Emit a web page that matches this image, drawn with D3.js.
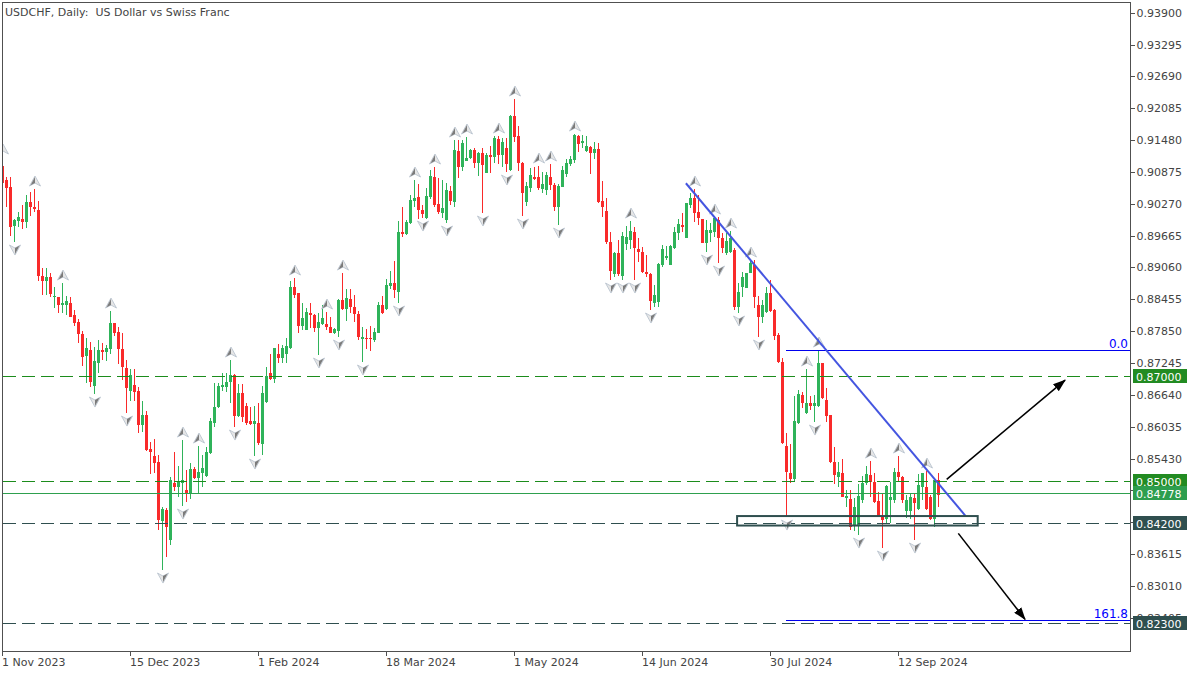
<!DOCTYPE html>
<html><head><meta charset="utf-8">
<script src="https://cdn.jsdelivr.net/npm/d3@7"></script>
<style>
body{margin:0;background:#fff}
svg{display:block}
text{font-family:"DejaVu Sans",Verdana,sans-serif;font-size:11px}
</style>
</head><body>
<svg id="c" width="1200" height="675"></svg>
<script>
// ---------------- DATA ----------------
const title = "USDCHF, Daily:  US Dollar vs Swiss Franc";
const startDate = "2023-11-01";
const holidays = ["2023-12-25", "2024-01-01"];

const open = [0.90987,0.90721,0.90588,0.89847,0.89942,0.89980,0.89923,0.90303,0.90208,0.90151,
0.88897,0.88802,0.88878,0.88498,0.88498,0.88346,0.88346,0.88384,0.88156,0.88023,
0.87795,0.87377,0.87491,0.86807,0.87244,0.87491,0.87453,0.87510,0.88004,0.87833,
0.87510,0.87149,0.86712,0.86826,0.86712,0.86066,0.86256,0.85610,0.85477,0.85363,
0.84242,0.84451,0.83881,0.84964,0.84888,0.84964,0.84831,0.84774,0.85230,0.85059,
0.85154,0.85097,0.85534,0.86104,0.86408,0.86788,0.86788,0.86883,0.87016,0.86237,
0.86674,0.86427,0.86142,0.86085,0.86104,0.85705,0.86503,0.87054,0.86940,0.87415,
0.87339,0.87415,0.87529,0.88688,0.88574,0.87947,0.87871,0.88194,0.88156,0.87909,
0.87985,0.87985,0.87928,0.87814,0.87852,0.88441,0.88270,0.88460,0.88308,0.88175,
0.87700,0.87719,0.87719,0.87681,0.87814,0.88346,0.88270,0.88707,0.88764,0.88593,
0.89733,0.89695,0.89904,0.90322,0.90398,0.90151,0.89999,0.90398,0.90778,0.90265,
0.90094,0.89961,0.90512,0.90303,0.91272,0.90968,0.91082,0.91139,0.91291,0.91044,
0.91234,0.90854,0.91196,0.91158,0.91500,0.91196,0.91329,0.90911,0.91937,0.91557,
0.91044,0.90303,0.90569,0.90778,0.90778,0.90550,0.90531,0.90778,0.90626,0.90208,
0.90588,0.90835,0.91025,0.91101,0.91557,0.91424,0.91272,0.91348,0.91234,0.91310,
0.90322,0.90132,0.89543,0.88935,0.89334,0.88897,0.89505,0.89581,0.89733,0.89410,
0.89353,0.88973,0.88935,0.88384,0.88403,0.89106,0.89239,0.89106,0.89429,0.89714,
0.89866,0.89619,0.90246,0.90379,0.90113,0.89980,0.89524,0.89714,0.89733,0.89961,
0.89619,0.89334,0.89353,0.89391,0.88308,0.88688,0.88669,0.88954,0.89106,0.88346,
0.88118,0.88213,0.88574,0.88251,0.87776,0.87263,0.85667,0.85154,0.85040,0.86104,
0.86636,0.86294,0.86484,0.86427,0.86427,0.87244,0.86541,0.86256,0.85363,0.85078,
0.85154,0.84679,0.84660,0.84147,0.84166,0.84641,0.84964,0.85116,0.84983,0.84622,
0.84318,0.84280,0.84641,0.84641,0.85173,0.85078,0.84432,0.84432,0.84679,0.84470,
0.84888,0.84888,0.84698,0.84280,0.85021];

const high = [0.91158,0.90778,0.90778,0.89980,0.90113,0.90246,0.90436,0.90493,0.90550,0.90322,
0.89049,0.89049,0.88954,0.88688,0.88498,0.88764,0.88517,0.88498,0.88251,0.88080,
0.87852,0.87719,0.87643,0.87548,0.87681,0.87624,0.87586,0.88232,0.88004,0.87928,
0.87814,0.87301,0.87130,0.87130,0.86788,0.86522,0.86332,0.85743,0.85800,0.85496,
0.84508,0.84489,0.85078,0.85553,0.85287,0.85781,0.85211,0.85344,0.85268,0.85667,
0.85496,0.85648,0.86199,0.86864,0.86864,0.87054,0.87054,0.87301,0.87035,0.86845,
0.86845,0.86484,0.86408,0.86427,0.86484,0.86807,0.87168,0.87415,0.87529,0.87605,
0.87586,0.87719,0.88802,0.88859,0.88574,0.88384,0.88289,0.88384,0.88175,0.88194,
0.88346,0.88213,0.88118,0.87909,0.88460,0.88954,0.88650,0.88650,0.88536,0.88232,
0.87928,0.87890,0.87947,0.87909,0.88403,0.88517,0.88840,0.88992,0.89182,0.89942,
0.90208,0.89961,0.90436,0.90721,0.90645,0.90246,0.90569,0.90911,0.90968,0.90759,
0.90721,0.90664,0.90607,0.91481,0.91481,0.91481,0.91538,0.91310,0.91329,0.91253,
0.91329,0.91234,0.91367,0.91557,0.91557,0.91519,0.91519,0.91956,0.92260,0.91747,
0.91063,0.90683,0.90949,0.90968,0.90987,0.90873,0.90873,0.91025,0.90664,0.90645,
0.90987,0.91120,0.91177,0.91595,0.91576,0.91576,0.91557,0.91367,0.91443,0.91424,
0.90702,0.90379,0.89733,0.89353,0.89581,0.89733,0.89847,0.89942,0.89828,0.89619,
0.89448,0.89296,0.88954,0.88726,0.89144,0.89486,0.89467,0.89486,0.89828,0.89980,
0.90094,0.90284,0.90474,0.90550,0.90436,0.89980,0.89961,0.89904,0.90018,0.90018,
0.89714,0.89714,0.89752,0.89429,0.88764,0.88973,0.88954,0.89201,0.89201,0.88517,
0.88441,0.88688,0.88821,0.88270,0.87814,0.87339,0.85914,0.85705,0.86617,0.86731,
0.86693,0.87130,0.86617,0.86636,0.87491,0.87244,0.86769,0.86256,0.85648,0.85363,
0.85420,0.84831,0.84831,0.84679,0.84945,0.85097,0.85287,0.85382,0.85154,0.84793,
0.84755,0.84926,0.84983,0.85249,0.85477,0.85097,0.84736,0.84755,0.84755,0.85135,
0.85154,0.85192,0.84736,0.85059,0.85154];

const low = [0.90626,0.90208,0.89657,0.89543,0.89828,0.89790,0.89809,0.90037,0.90113,0.88802,
0.88536,0.88536,0.88498,0.88289,0.88194,0.88194,0.88156,0.88118,0.87947,0.87624,
0.87187,0.86864,0.86788,0.86655,0.87054,0.87301,0.87282,0.87415,0.87757,0.87225,
0.86921,0.86294,0.86522,0.86522,0.85914,0.85933,0.85572,0.85135,0.85154,0.84071,
0.83311,0.83558,0.83786,0.84812,0.84698,0.84527,0.84603,0.84660,0.85040,0.84774,
0.84888,0.85078,0.85515,0.86028,0.86389,0.86712,0.86693,0.86484,0.86028,0.86218,
0.86123,0.86066,0.86066,0.85477,0.85686,0.85496,0.86484,0.86921,0.86864,0.87244,
0.87244,0.87244,0.87510,0.88479,0.87814,0.87871,0.87871,0.87909,0.87833,0.87396,
0.87966,0.87871,0.87814,0.87795,0.87738,0.88251,0.88042,0.88194,0.88023,0.87681,
0.87263,0.87510,0.87472,0.87643,0.87814,0.88175,0.88251,0.88650,0.88479,0.88384,
0.89638,0.89676,0.89885,0.90208,0.89980,0.89999,0.89980,0.90360,0.90208,0.90075,
0.89999,0.89904,0.90246,0.90208,0.90759,0.90892,0.91082,0.91120,0.90949,0.90797,
0.90094,0.90854,0.90854,0.91044,0.91025,0.90968,0.90873,0.90892,0.91443,0.90892,
0.90037,0.90227,0.90493,0.90721,0.90531,0.90474,0.90436,0.90531,0.90132,0.89866,
0.90588,0.90778,0.90987,0.91044,0.91253,0.91329,0.91253,0.90835,0.91120,0.90284,
0.90018,0.89505,0.88821,0.88878,0.88897,0.88821,0.89391,0.89410,0.88821,0.89163,
0.88954,0.88878,0.88251,0.88308,0.88308,0.89068,0.89201,0.89106,0.89410,0.89581,
0.89733,0.89619,0.90189,0.89923,0.89866,0.89524,0.89353,0.89543,0.89638,0.89144,
0.89334,0.89296,0.89334,0.88251,0.88194,0.88498,0.88669,0.88954,0.88289,0.87738,
0.88004,0.88194,0.88213,0.87681,0.87244,0.85705,0.84318,0.84964,0.84983,0.86085,
0.86389,0.86275,0.86351,0.86123,0.86408,0.86560,0.86123,0.85344,0.84945,0.84888,
0.84698,0.84508,0.84071,0.84052,0.83976,0.84584,0.84926,0.84698,0.84584,0.84318,
0.83729,0.84204,0.84204,0.84584,0.85002,0.84584,0.84299,0.84280,0.83881,0.84451,
0.84641,0.84451,0.84261,0.84128,0.84508];

const close = [0.90664,0.90569,0.89828,0.89961,0.90018,0.89923,0.90303,0.90208,0.90170,0.88897,
0.88802,0.88878,0.88555,0.88517,0.88346,0.88384,0.88422,0.88118,0.88004,0.87795,
0.87358,0.87529,0.86883,0.87282,0.87491,0.87453,0.87529,0.88004,0.87814,0.87510,
0.87168,0.86769,0.87016,0.86693,0.86066,0.86256,0.85591,0.85553,0.85344,0.84261,
0.84470,0.84128,0.85021,0.84888,0.85002,0.85021,0.84774,0.85230,0.85059,0.85173,
0.85249,0.85553,0.86142,0.86408,0.86807,0.86826,0.86883,0.87016,0.86237,0.86674,
0.86218,0.86104,0.86085,0.86142,0.85724,0.86674,0.86997,0.86940,0.87529,0.87339,
0.87529,0.87567,0.88688,0.88536,0.87947,0.88099,0.88213,0.88156,0.87909,0.88023,
0.88099,0.87928,0.87814,0.87890,0.88441,0.88270,0.88479,0.88308,0.88175,0.87738,
0.87738,0.87700,0.87700,0.87833,0.88346,0.88194,0.88726,0.88764,0.88631,0.89733,
0.89695,0.89923,0.90341,0.90379,0.90151,0.90075,0.90417,0.90797,0.90246,0.90113,
0.90189,0.90531,0.90322,0.91291,0.90968,0.91424,0.91139,0.91291,0.91044,0.91234,
0.91006,0.91196,0.91158,0.91519,0.91196,0.91443,0.91025,0.91937,0.91538,0.91044,
0.90474,0.90607,0.90816,0.90740,0.90569,0.90645,0.90816,0.90626,0.90208,0.90607,
0.90911,0.91044,0.91120,0.91576,0.91405,0.91462,0.91367,0.91234,0.91310,0.90303,
0.90208,0.89543,0.88992,0.89334,0.88935,0.89657,0.89638,0.89752,0.89429,0.89353,
0.88973,0.88935,0.88422,0.88536,0.89125,0.89410,0.89277,0.89467,0.89733,0.89885,
0.89828,0.90284,0.90379,0.90094,0.89999,0.89524,0.89771,0.89771,0.89999,0.89619,
0.89429,0.89562,0.89619,0.88308,0.88593,0.88878,0.88954,0.89144,0.88498,0.88118,
0.88346,0.88574,0.88232,0.87757,0.87263,0.85724,0.85173,0.85040,0.86142,0.86655,
0.86484,0.86484,0.86427,0.86484,0.87244,0.86579,0.86237,0.85363,0.85116,0.85173,
0.84698,0.84717,0.84128,0.84508,0.84717,0.84964,0.85135,0.84983,0.84603,0.84337,
0.84261,0.84907,0.84698,0.85173,0.85078,0.84641,0.84641,0.84698,0.84584,0.84926,
0.85154,0.84470,0.84280,0.85021,0.84736];

const upFractals = [0,8,15,27,45,49,57,73,81,85,103,108,113,116,124,128,134,137,143,157,173,178,182,187,201,204,217,224,231];
const downFractals = [3,23,31,40,45,58,63,79,84,90,99,105,111,120,126,130,139,152,155,158,162,176,179,184,189,196,203,214,220,228];

const priceTicks = [0.93900,0.93295,0.92690,0.92085,0.91480,0.90875,0.90270,0.89665,0.89060,0.88455,
0.87850,0.87245,0.86640,0.86035,0.85430,0.84825,0.84220,0.83615,0.83010,0.82405];
const dateTicks = ["1 Nov 2023","15 Dec 2023","1 Feb 2024","18 Mar 2024","1 May 2024","14 Jun 2024","30 Jul 2024","12 Sep 2024"];

const levelPrices = [0.87000, 0.85000, 0.84778, 0.84200, 0.82300];
const fibHigh = 0.87491, fibLow = 0.84318, fibStart = 196;
const fibLevels = [0, 161.8];
const trendStart = [170.9, 0.90660], trendEnd = [240.85, 0.84337];
const zoneStart = [183.7, 0.84337], zoneEnd = [243.85, 0.84157];
const arrowUpFrom = [236.1, 0.85034], arrowUpTo = [265.7, 0.86921];
const arrowDnFrom = [239.0, 0.84008], arrowDnTo = [255.7, 0.82374];

// ---------------- DRAW ----------------
const parse = d3.timeParse("%Y-%m-%d");
const fmtD = d3.timeFormat("%Y-%m-%d");
const fmtLabel = d3.timeFormat("%-d %b %Y");
const dates = [];
{
  let d = parse(startDate);
  while (dates.length < open.length) {
    const wd = d.getDay();
    if (wd !== 0 && wd !== 6 && !holidays.includes(fmtD(d))) dates.push(new Date(d));
    d = d3.timeDay.offset(d, 1);
  }
}
const bars = open.map((o, i) => ({i, o, h: high[i], l: low[i], c: close[i], date: dates[i]}));

const svg = d3.select("#c");
const PL = 2.5, PT = 2.5, PR = 1130.5, PB = 651.5;
const x = d3.scaleLinear().domain([0, 234]).range([2.3, 938.3]);
const y = d3.scaleLinear().domain([0.817733, 0.940843]).range([651, 3]);
const cx = i => Math.round(x(i));

svg.append("rect").attr("width", 1200).attr("height", 675).attr("fill", "#fff");
svg.append("clipPath").attr("id", "clip").append("rect")
  .attr("x", 3).attr("y", 3).attr("width", 1127).attr("height", 648);
const plot = svg.append("g").attr("clip-path", "url(#clip)");

// candles
const cg = plot.append("g").attr("shape-rendering", "crispEdges");
const GREEN = "#2fb35a", RED = "#f92a2a";
cg.selectAll("line.w").data(bars).join("line")
  .attr("x1", d => cx(d.i) + 0.5).attr("x2", d => cx(d.i) + 0.5)
  .attr("y1", d => y(d.h)).attr("y2", d => y(d.l))
  .attr("stroke", d => d.c >= d.o ? GREEN : RED).attr("stroke-width", 1);
cg.selectAll("rect.b").data(bars).join("rect")
  .attr("x", d => cx(d.i) - 1).attr("width", 3)
  .attr("y", d => y(Math.max(d.o, d.c)))
  .attr("height", d => Math.max(1, Math.abs(y(d.o) - y(d.c))))
  .attr("fill", d => d.c >= d.o ? GREEN : RED);

// horizontal levels
const levelStyle = [
  {stroke: "#1c8c1c", dash: "13,6", box: "#228b22"},
  {stroke: "#1c8c1c", dash: "13,6", box: "#228b22"},
  {stroke: "#2ea04e", dash: null,  box: "#2e9e4e"},
  {stroke: "#2f4f4f", dash: "13,6", box: "#2f4f4f"},
  {stroke: "#2f4f4f", dash: "13,6", box: "#2f4f4f"}
];
levelPrices.forEach((p, k) => {
  const yy = Math.round(y(p)) + 0.5;
  plot.append("line").attr("x1", 3).attr("x2", 1130).attr("y1", yy).attr("y2", yy)
    .attr("stroke", levelStyle[k].stroke).attr("stroke-width", 1)
    .attr("stroke-dasharray", levelStyle[k].dash).attr("shape-rendering", "crispEdges");
});

// fibonacci
fibLevels.forEach(lv => {
  const p = fibHigh - lv / 100 * (fibHigh - fibLow);
  const yy = Math.round(y(p)) + 0.5;
  plot.append("line").attr("x1", cx(fibStart)).attr("x2", 1130).attr("y1", yy).attr("y2", yy)
    .attr("stroke", "#0000ee").attr("stroke-width", 1).attr("shape-rendering", "crispEdges");
  svg.append("text").attr("x", 1128).attr("y", yy - 3).attr("text-anchor", "end")
    .attr("fill", "#0000ff").style("font-size", "12px").text(lv === 0 ? "0.0" : String(lv));
});

// fractals
function fractalUp(px, tipY) {
  const g = plot.append("g");
  g.append("path").attr("d", `M${px},${tipY} L${px+5.5},${tipY+10} L${px},${tipY+7} L${px-5.5},${tipY+10} Z`)
    .attr("fill", "#e6e6e6").attr("stroke", "#b4bfcc").attr("stroke-width", 0.8);
  g.append("path").attr("d", `M${px},${tipY+1} L${px},${tipY+7} L${px-4.5},${tipY+9.3} Z`).attr("fill", "#7b7b7b");
}
function fractalDown(px, tipY) {
  const g = plot.append("g");
  g.append("path").attr("d", `M${px},${tipY} L${px+5.5},${tipY-10} L${px},${tipY-7} L${px-5.5},${tipY-10} Z`)
    .attr("fill", "#e6e6e6").attr("stroke", "#b4bfcc").attr("stroke-width", 0.8);
  g.append("path").attr("d", `M${px},${tipY-1} L${px},${tipY-7} L${px+4.5},${tipY-9.3} Z`).attr("fill", "#7b7b7b");
}
upFractals.forEach(i => fractalUp(cx(i) + 1, y(high[i]) - 13));
downFractals.forEach(i => fractalDown(cx(i) + 1, y(low[i]) + 13));

// trend line
plot.append("line")
  .attr("x1", x(trendStart[0])).attr("y1", y(trendStart[1]))
  .attr("x2", x(trendEnd[0])).attr("y2", y(trendEnd[1]))
  .attr("stroke", "#4455e0").attr("stroke-width", 2);

// zone rectangle
plot.append("rect")
  .attr("x", x(zoneStart[0])).attr("y", y(zoneStart[1]))
  .attr("width", x(zoneEnd[0]) - x(zoneStart[0]))
  .attr("height", y(zoneEnd[1]) - y(zoneStart[1]))
  .attr("fill", "none").attr("stroke", "#2f4f4f").attr("stroke-width", 2);

// arrows
const defs = svg.append("defs");
defs.append("marker").attr("id", "ah").attr("markerUnits", "userSpaceOnUse")
  .attr("markerWidth", 13).attr("markerHeight", 9).attr("refX", 12).attr("refY", 4.5)
  .attr("orient", "auto").append("path").attr("d", "M0,0 L13,4.5 L0,9 Z").attr("fill", "#000");
[[arrowUpFrom, arrowUpTo], [arrowDnFrom, arrowDnTo]].forEach(([a, b]) => {
  plot.append("line").attr("x1", x(a[0])).attr("y1", y(a[1])).attr("x2", x(b[0])).attr("y2", y(b[1]))
    .attr("stroke", "#000").attr("stroke-width", 1.6).attr("marker-end", "url(#ah)");
});

// frame
svg.append("rect").attr("x", PL).attr("y", PT).attr("width", PR - PL).attr("height", PB - PT)
  .attr("fill", "none").attr("stroke", "#505050").attr("stroke-width", 1).attr("shape-rendering", "crispEdges");

// right price axis (tick labels fully covered by a level label are not shown, as in the reference)
const TXT = "#444";
const shownTicks = priceTicks.filter(t => !levelPrices.some(p => Math.abs(y(p) - y(t)) < 9));
const ya = svg.append("g").attr("transform", `translate(${PR},0)`)
  .call(d3.axisRight(y).tickValues(priceTicks).tickFormat(t => shownTicks.includes(t) || t < 0.83 ? d3.format(".5f")(t) : "")
    .tickSize(4).tickPadding(2));
ya.select(".domain").remove();
ya.selectAll(".tick line").attr("stroke", "#505050").attr("shape-rendering", "crispEdges");
ya.selectAll(".tick text").attr("fill", TXT).style("font-size", "11px").style("font-family", "DejaVu Sans");

// level labels
levelPrices.forEach((p, k) => {
  const yy = y(p);
  svg.append("rect").attr("x", 1133).attr("y", Math.round(yy) - 7).attr("width", 54).attr("height", 14)
    .attr("fill", levelStyle[k].box);
  svg.append("text").attr("x", 1136).attr("y", Math.round(yy) + 4.5).attr("fill", "#fff")
    .style("font-size", "11px").text(d3.format(".5f")(p));
});

// bottom date axis
const tickIdx = dateTicks.map(lbl => dates.findIndex(d => fmtLabel(d) === lbl));
const xg = svg.append("g");
tickIdx.forEach((i, k) => {
  const tx = cx(i) + 0.5;
  xg.append("line").attr("x1", tx).attr("x2", tx).attr("y1", PB).attr("y2", PB + 4)
    .attr("stroke", "#505050").attr("shape-rendering", "crispEdges");
  xg.append("text").attr("x", cx(i)).attr("y", 666).attr("fill", TXT).text(dateTicks[k]);
});

// title
svg.append("text").attr("x", 5).attr("y", 16).attr("fill", TXT)
  .attr("xml:space", "preserve").style("white-space", "pre").text(title);
</script>
</body></html>
